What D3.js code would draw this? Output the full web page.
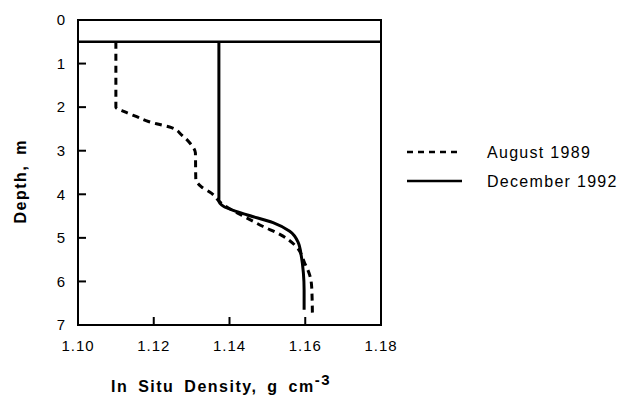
<!DOCTYPE html>
<html>
<head>
<meta charset="utf-8">
<script src="https://cdn.jsdelivr.net/npm/d3@7"></script>
<style>
  body { margin: 0; background: #fff; }
  text { font-family: "Liberation Sans", Arial, Helvetica, sans-serif; fill: #000; }
  .tick-label { font-size: 15px; letter-spacing: 1px; }
  .axis-title { font-size: 16px; font-weight: bold; letter-spacing: 1.5px; word-spacing: 4px; }
  .legend-label { font-size: 16px; letter-spacing: 1.3px; }
</style>
</head>
<body>
<div id="chart"></div>
<script>
// density (g cm-3) and depth (m) read from the profile
const aug1989Density = [1.110, 1.110, 1.1124, 1.1155, 1.1186, 1.1216, 1.1247, 1.1274, 1.1296, 1.1310, 1.1311, 1.1326, 1.1353, 1.1379, 1.1432, 1.1458, 1.1489, 1.1533, 1.1573, 1.1599, 1.1612, 1.1617, 1.1619];
const aug1989Depth   = [0.5,   2.0,   2.11,   2.22,   2.33,   2.40,   2.47,   2.64,   2.83,   3.05,   3.65,   3.83,   3.98,   4.21,   4.48,   4.60,   4.74,   4.92,   5.17,   5.59,   5.86,   6.13,   6.8];

const dec1992Density = [1.1372, 1.1372, 1.1385, 1.1410, 1.1445, 1.1515, 1.1559, 1.1581, 1.1590, 1.1595, 1.1597, 1.1597];
const dec1992Depth   = [0.5,    4.15,   4.28,   4.37,   4.47,   4.65,   4.85,   5.10,   5.44,   5.80,   6.20,   6.65];

const seriesNames = ["August 1989", "December 1992"];
const xTicks = [1.10, 1.12, 1.14, 1.16, 1.18];
const yTicks = [0, 1, 2, 3, 4, 5, 6, 7];
const surfaceDepth = 0.5;

const margin = {top: 20, right: 239, bottom: 77, left: 78},
      width = 620 - margin.left - margin.right,
      height = 402 - margin.top - margin.bottom;

const svg = d3.select("#chart").append("svg")
    .attr("width", 620)
    .attr("height", 402)
  .append("g")
    .attr("transform", `translate(${margin.left},${margin.top})`);

const x = d3.scaleLinear().domain([1.10, 1.18]).range([0, width]);
const y = d3.scaleLinear().domain([0, 7]).range([0, height]);

// tick labels
svg.append("g").selectAll("text")
  .data(xTicks).enter().append("text")
    .attr("class", "tick-label")
    .attr("x", d => x(d))
    .attr("y", height + 26)
    .attr("text-anchor", "middle")
    .text(d => d.toFixed(2));

svg.append("g").selectAll("text")
  .data(yTicks).enter().append("text")
    .attr("class", "tick-label")
    .attr("x", -12)
    .attr("y", d => y(d))
    .attr("dy", "0.35em")
    .attr("text-anchor", "end")
    .text(d => d);

// inward ticks
svg.append("g").selectAll("line")
  .data(yTicks.slice(1, -1)).enter().append("line")
    .attr("x1", 0).attr("x2", 8)
    .attr("y1", d => y(d)).attr("y2", d => y(d))
    .attr("stroke", "#000").attr("stroke-width", 2);

svg.append("g").selectAll("line")
  .data(xTicks.slice(1, -1)).enter().append("line")
    .attr("x1", d => x(d)).attr("x2", d => x(d))
    .attr("y1", height).attr("y2", height - 8)
    .attr("stroke", "#000").attr("stroke-width", 2);

// frame + surface line
svg.append("rect")
    .attr("width", width).attr("height", height)
    .attr("fill", "none").attr("stroke", "#000").attr("stroke-width", 2);

svg.append("line")
    .attr("x1", 0).attr("x2", width)
    .attr("y1", y(surfaceDepth)).attr("y2", y(surfaceDepth))
    .attr("stroke", "#000").attr("stroke-width", 2.5);

// profiles
const line = d3.line()
    .x(d => x(d[0]))
    .y(d => y(d[1]))
    .curve(d3.curveMonotoneY);

svg.append("path")
    .datum(d3.zip(aug1989Density, aug1989Depth))
    .attr("d", line)
    .attr("fill", "none").attr("stroke", "#000")
    .attr("stroke-width", 3).attr("stroke-dasharray", "7,5");

svg.append("path")
    .datum(d3.zip(dec1992Density, dec1992Depth))
    .attr("d", line)
    .attr("fill", "none").attr("stroke", "#000")
    .attr("stroke-width", 3);

// axis titles
svg.append("text")
    .attr("class", "axis-title")
    .attr("transform", `translate(${-58},${y(3.7)}) rotate(-90)`)
    .attr("text-anchor", "middle")
    .attr("dy", "0.35em")
    .text("Depth, m");

const xt = svg.append("text")
    .attr("class", "axis-title")
    .attr("x", 33)
    .attr("y", height + 67);
xt.append("tspan").text("In Situ Density, g cm");
xt.append("tspan").attr("dy", -7).style("font-size", "15px").text("-3");

// legend
const legend = svg.append("g").attr("transform", `translate(${width + 26},0)`);
seriesNames.forEach((name, i) => {
  const ly = 132 + i * 29;
  legend.append("line")
      .attr("x1", 0).attr("x2", 55)
      .attr("y1", ly).attr("y2", ly)
      .attr("stroke", "#000").attr("stroke-width", 2.5)
      .attr("stroke-dasharray", i === 0 ? "6,5" : null);
  legend.append("text")
      .attr("class", "legend-label")
      .attr("x", 80).attr("y", ly)
      .attr("dy", "0.35em")
      .text(name);
});
</script>
</body>
</html>
